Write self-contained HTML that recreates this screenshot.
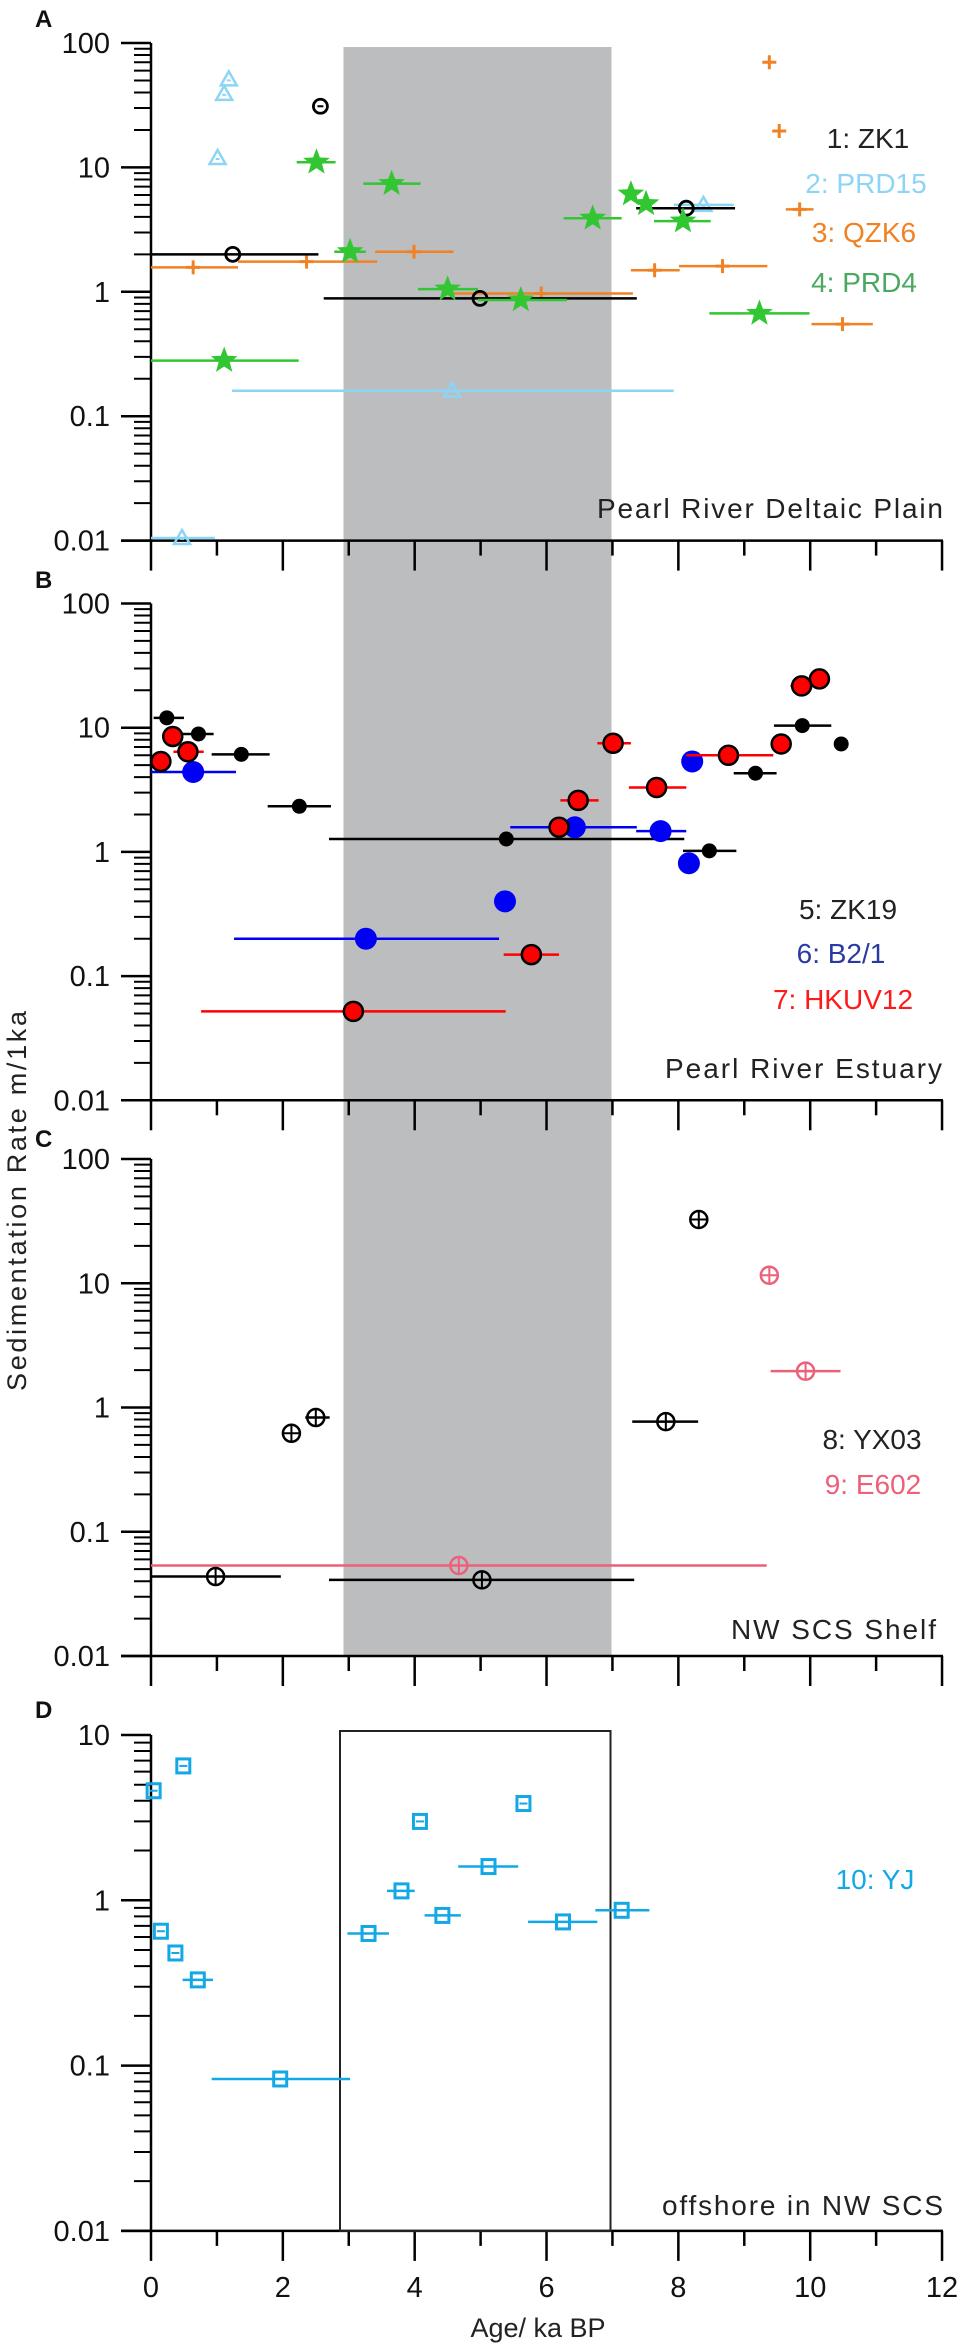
<!DOCTYPE html>
<html><head><meta charset="utf-8">
<style>
html,body{margin:0;padding:0;background:#fff;}
svg{display:block;font-family:"Liberation Sans",Arial,sans-serif;}
</style></head>
<body>
<svg id="chart" width="957" height="2345" viewBox="0 0 957 2345" xmlns="http://www.w3.org/2000/svg">
<rect x="0" y="0" width="957" height="2345" fill="#fff"/>
<rect x="343.5" y="47" width="268" height="1609" fill="#bcbdbf"/>
<g id="layer"></g>
<text transform="translate(26,1201) rotate(-90)" text-anchor="middle" font-size="27" fill="#222" textLength="380">Sedimentation Rate m/1ka</text>
<text x="538" y="2337" text-anchor="middle" font-size="27" fill="#222">Age/ ka BP</text>
</svg>
<script>
// ---------- data ----------
// Panel A
const zk1Age=[2.57,1.24,4.99,8.12];
const zk1Val=[31,2.0,0.885,4.7];
const zk1Lo=[null,0,2.62,7.36];
const zk1Hi=[null,2.54,7.37,8.86];
const prd15Age=[1.18,1.11,1.01,4.57,0.47,8.38];
const prd15Val=[51,39,11.9,0.16,0.0105,5.0];
const prd15Lo=[null,null,null,1.23,0,7.93];
const prd15Hi=[null,null,null,7.93,0.97,8.84];
const qzk6Age=[9.38,9.53,9.84,0.64,2.36,3.99,5.92,7.64,8.67,10.49];
const qzk6Val=[70,19.6,4.6,1.57,1.75,2.1,0.97,1.49,1.61,0.55];
const qzk6Lo=[null,null,9.63,0,1.32,3.40,4.59,7.28,8.01,10.02];
const qzk6Hi=[null,null,10.05,1.32,3.43,4.59,7.31,8.02,9.35,10.95];
const prd4Age=[2.51,3.65,3.02,4.50,5.61,1.11,6.70,7.28,7.51,8.07,9.23];
const prd4Val=[11.0,7.4,2.1,1.05,0.86,0.28,3.9,6.1,5.1,3.7,0.67];
const prd4Lo=[2.21,3.22,2.78,4.05,4.96,0,6.26,null,null,7.63,8.47];
const prd4Hi=[2.80,4.09,3.26,4.96,6.31,2.24,7.14,null,null,8.49,9.99];
// Panel B
const zk19Age=[0.24,0.72,1.37,2.25,5.39,8.47,9.17,9.88,10.47];
const zk19Val=[12,8.9,6.1,2.33,1.27,1.02,4.3,10.4,7.4];
const zk19Lo=[0.04,0.46,0.92,1.77,2.70,8.07,8.84,9.45,null];
const zk19Hi=[0.50,0.95,1.80,2.73,8.09,8.88,9.49,10.32,null];
const b21Age=[0.64,6.43,7.73,8.21,8.16,5.37,3.26];
const b21Val=[4.4,1.58,1.47,5.35,0.81,0.40,0.20];
const b21Lo=[0,5.45,7.36,null,null,null,1.26];
const b21Hi=[1.29,7.37,8.12,null,null,null,5.28];
const hkAge=[0.15,0.33,0.56,7.01,6.48,6.19,7.67,8.76,9.56,9.87,10.14,5.77,3.07];
const hkVal=[5.35,8.5,6.4,7.5,2.6,1.58,3.3,6.0,7.4,21.7,24.7,0.149,0.052];
const hkLo=[null,null,0.34,6.77,6.21,null,7.25,8.12,null,9.70,null,5.35,0.76];
const hkHi=[null,null,0.80,7.28,6.79,null,8.12,9.44,null,10.11,null,6.19,5.38];
// Panel C
const yx03Age=[8.31,2.13,2.50,7.81,0.98,5.02];
const yx03Val=[32.6,0.62,0.83,0.77,0.0436,0.041];
const yx03Lo=[null,null,2.34,7.30,0,2.70];
const yx03Hi=[null,null,2.71,8.30,1.97,7.33];
const e602Age=[9.38,9.93,4.67];
const e602Val=[11.6,1.96,0.0535];
const e602Lo=[null,9.40,0];
const e602Hi=[null,10.46,9.34];
// Panel D
const yjAge=[0.04,0.49,0.15,0.37,0.71,1.96,3.30,3.80,4.08,4.42,5.12,5.65,6.25,7.14];
const yjVal=[4.6,6.5,0.65,0.48,0.33,0.083,0.63,1.14,3.0,0.81,1.6,3.85,0.74,0.87];
const yjLo=[null,null,null,null,0.48,0.92,2.98,3.58,null,4.15,4.66,null,5.72,6.74];
const yjHi=[null,null,null,null,0.94,3.02,3.61,4.00,null,4.70,5.57,null,6.77,7.56];
const xTicks=[0,2,4,6,8,10,12];
const yTickLabels={"2":"100","1":"10","0":"1","-1":"0.1","-2":"0.01"};

// ---------- scales ----------
const NS="http://www.w3.org/2000/svg";
const layer=document.getElementById('layer');
function X(a){return 151+a*65.92;}
function mk(tag,attrs,parent){const e=document.createElementNS(NS,tag);for(const k in attrs)e.setAttribute(k,attrs[k]);(parent||layer).appendChild(e);return e;}
const panels={
 A:{top:43,dec:124.4,maxE:2,minE:-2,label:"A",ly:27},
 B:{top:603.5,dec:124.2,maxE:2,minE:-2,label:"B",ly:588},
 C:{top:1159,dec:124.25,maxE:2,minE:-2,label:"C",ly:1147},
 D:{top:1735,dec:165.3,maxE:1,minE:-2,label:"D",ly:1718}
};
function Y(p,v){return p.top+(p.maxE-Math.log10(v))*p.dec;}

// ---------- axes ----------
for(const key in panels){
 const p=panels[key];
 const g=mk('g',{});
 
 
 const bottom=p.top+(p.maxE-p.minE)*p.dec;
 const lab=mk('text',{x:35,y:p.ly,'font-size':24,'font-weight':'bold',fill:'#111'},g);
 lab.textContent=p.label;
 
 
 mk('line',{x1:151,y1:p.top,x2:151,y2:bottom,stroke:'#000','stroke-width':2.5},g);
 mk('line',{x1:121,y1:bottom,x2:943,y2:bottom,stroke:'#000','stroke-width':2.5},g);
 for(let e=p.maxE;e>=p.minE;e--){
  const y=p.top+(p.maxE-e)*p.dec;
  mk('line',{x1:121,y1:y,x2:151,y2:y,stroke:'#000','stroke-width':2.5},g);
  const t=mk('text',{x:110,y:y+10,'text-anchor':'end','font-size':29,fill:'#111'},g);
  t.textContent=yTickLabels[String(e)];
  
  
  if(e>p.minE){for(let m=2;m<=9;m++){const yy=Y(p,m*Math.pow(10,e-1));mk('line',{x1:134,y1:yy,x2:151,y2:yy,stroke:'#000','stroke-width':2},g);}}
 }
 for(let a=0;a<=12;a++){
  const len=(a%2===0)?30:15;
  mk('line',{x1:X(a),y1:bottom,x2:X(a),y2:bottom+len,stroke:'#000','stroke-width':2.5},g);
 }
 if(key==='D'){
  xTicks.forEach(a=>{const t=mk('text',{x:X(a),y:2297,'text-anchor':'middle','font-size':29,fill:'#111'},g);t.textContent=a;
   
   });
 }
}
// D panel box
const dbox=mk('rect',{x:340,y:1731,width:270.5,height:500,fill:'none',stroke:'#222','stroke-width':2});



// ---------- markers ----------
function star(cx,cy,r){let s='';for(let i=0;i<10;i++){const rr=i%2?r*0.42:r;const an=-Math.PI/2+i*Math.PI/5;s+=(cx+rr*Math.cos(an)).toFixed(1)+','+(cy+rr*Math.sin(an)).toFixed(1)+' ';}return s;}
function series(name,p,ages,vals,lo,hi,color,kind){
 const g=mk('g',{});
 
 
 ages.forEach((a,i)=>{
  const cx=X(a),cy=Y(p,vals[i]);
  if(lo[i]!==null){mk('line',{x1:X(lo[i]),y1:cy,x2:X(hi[i]),y2:cy,stroke:color,'stroke-width':2.5},g);}
  let m;
  if(kind==='ocircle'){m=mk('g',{},g);mk('circle',{cx:cx,cy:cy,r:7,fill:'none',stroke:color,'stroke-width':2.8},m);mk('line',{x1:cx-3,y1:cy,x2:cx+3,y2:cy,stroke:color,'stroke-width':2},m);}
  else if(kind==='tri'){m=mk('g',{},g);mk('polygon',{points:`${cx},${cy-8} ${cx+8},${cy+6} ${cx-8},${cy+6}`,fill:'none',stroke:color,'stroke-width':2.5},m);mk('line',{x1:cx-2,y1:cy+1,x2:cx+2,y2:cy+1,stroke:color,'stroke-width':2},m);}
  else if(kind==='plus'){m=mk('path',{d:`M${cx-7},${cy}H${cx+7}M${cx},${cy-7}V${cy+7}`,stroke:color,'stroke-width':3,fill:'none'},g);}
  else if(kind==='star'){m=mk('polygon',{points:star(cx,cy,14),fill:color},g);}
  else if(kind==='dot'){m=mk('circle',{cx:cx,cy:cy,r:7.5,fill:color},g);}
  else if(kind==='big'){m=mk('circle',{cx:cx,cy:cy,r:11,fill:color},g);}
  else if(kind==='red'){m=mk('circle',{cx:cx,cy:cy,r:9.5,fill:color,stroke:'#000','stroke-width':2.5},g);}
  else if(kind==='cross'){m=mk('g',{},g);mk('circle',{cx:cx,cy:cy,r:8.5,fill:'none',stroke:color,'stroke-width':2.5},m);mk('path',{d:`M${cx-8},${cy}H${cx+8}M${cx},${cy-8}V${cy+8}`,stroke:color,'stroke-width':2},m);}
  else if(kind==='sq'){m=mk('g',{},g);mk('rect',{x:cx-6.5,y:cy-7,width:13,height:14,fill:'none',stroke:color,'stroke-width':3},m);mk('line',{x1:cx-4,y1:cy,x2:cx+4,y2:cy,stroke:color,'stroke-width':2},m);}
  
  
 });
}
const A=panels.A,B=panels.B,C=panels.C,D=panels.D;
series('qzk6',A,qzk6Age,qzk6Val,qzk6Lo,qzk6Hi,'#f08224','plus');
series('prd15',A,prd15Age,prd15Val,prd15Lo,prd15Hi,'#8dd5f5','tri');
series('zk1',A,zk1Age,zk1Val,zk1Lo,zk1Hi,'#000','ocircle');
series('prd4',A,prd4Age,prd4Val,prd4Lo,prd4Hi,'#33c633','star');
series('zk19',B,zk19Age,zk19Val,zk19Lo,zk19Hi,'#000','dot');
series('b2-1',B,b21Age,b21Val,b21Lo,b21Hi,'#0000f5','big');
series('hkuv12',B,hkAge,hkVal,hkLo,hkHi,'#ff0000','red');
series('e602',C,e602Age,e602Val,e602Lo,e602Hi,'#ec6079','cross');
series('yx03',C,yx03Age,yx03Val,yx03Lo,yx03Hi,'#000','cross');
series('yj',D,yjAge,yjVal,yjLo,yjHi,'#12a8e6','sq');

// ---------- legends / captions ----------
function txt(name,x,y,s,color,anchor,size,tl){
 const t=mk('text',{x:x,y:y,'text-anchor':anchor,'font-size':size,fill:color});
 if(tl)t.setAttribute('textLength',tl);
 t.textContent=s;
 
 
}
txt('legend-zk1',868,148,'1: ZK1','#222','middle',28);
txt('legend-prd15',866,193,'2: PRD15','#8dd5f5','middle',28);
txt('legend-qzk6',864,242,'3: QZK6','#f08224','middle',28);
txt('legend-prd4',864,292,'4: PRD4','#4aa860','middle',28);
txt('caption-deltaic-plain',943,518,'Pearl River Deltaic Plain','#222','end',28,346);
txt('legend-zk19',848,919,'5: ZK19','#222','middle',28);
txt('legend-b2-1',841,963,'6: B2/1','#2b3aa0','middle',28);
txt('legend-hkuv12',843,1009,'7: HKUV12','#ff1a1a','middle',28);
txt('caption-estuary',942,1078,'Pearl River Estuary','#222','end',28,277);
txt('legend-yx03',872,1449,'8: YX03','#222','middle',28);
txt('legend-e602',873,1494,'9: E602','#ec6079','middle',28);
txt('caption-shelf',936,1639,'NW SCS Shelf','#222','end',28,205);
txt('legend-yj',875,1889,'10: YJ','#12a8e6','middle',28);
txt('caption-offshore',943,2215,'offshore in NW SCS','#222','end',28,281);
</script>
</body></html>
